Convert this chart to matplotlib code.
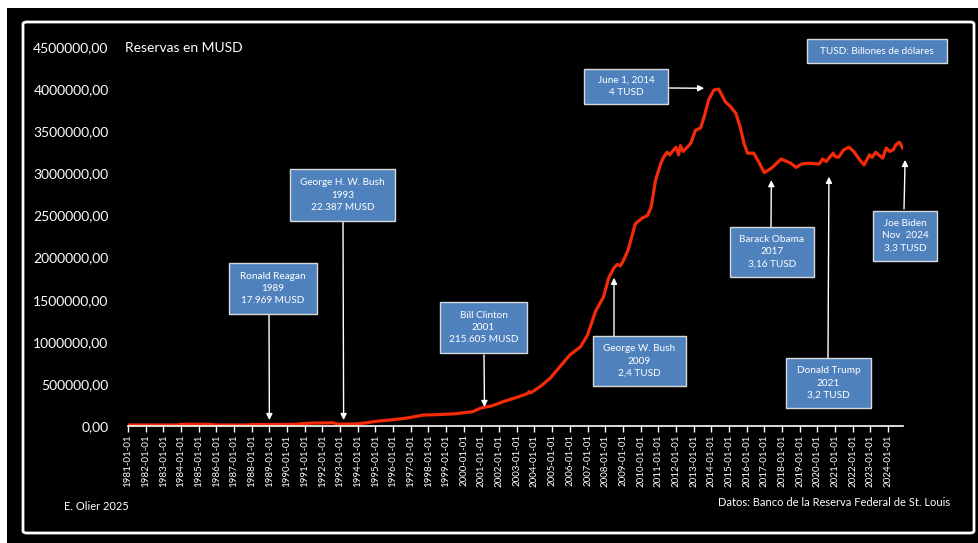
import matplotlib.pyplot as plt
from matplotlib.patches import Rectangle, FancyBboxPatch
from matplotlib.ticker import FuncFormatter

# Reservas (MUSD), serie leida por fechas en fraccion de anio
anios = [1981.0, 1983.8, 1984.0, 1985.6, 1986.0, 1987.8, 1988.0, 1989.0, 1990.5, 1991.0,
         1991.5, 1992.6, 1992.9, 1993.0, 1993.9, 1994.5, 1995.0, 1996.0, 1996.8, 1997.7,
         1998.5, 1999.5, 2000.5, 2001.0, 2001.6, 2002.25, 2003.0, 2003.6, 2003.7, 2003.8,
         2004.4, 2004.9, 2005.5, 2006.0, 2006.6, 2007.0, 2007.45, 2007.9, 2008.2, 2008.5,
         2008.7, 2008.85, 2009.0, 2009.3, 2009.7, 2010.1, 2010.4, 2010.6, 2010.85, 2011.15,
         2011.3, 2011.5, 2011.65, 2011.8, 2012.0, 2012.15, 2012.25, 2012.4, 2012.6, 2012.85,
         2013.1, 2013.4, 2013.6, 2013.85, 2014.15, 2014.42, 2014.55, 2014.8, 2015.1, 2015.4,
         2015.65, 2015.85, 2016.05, 2016.4, 2016.7, 2017.0, 2017.4, 2017.95, 2018.5, 2018.8,
         2019.1, 2019.5, 2020.1, 2020.3, 2020.5, 2020.9, 2021.0, 2021.2, 2021.5, 2021.8,
         2022.1, 2022.4, 2022.65, 2022.95, 2023.1, 2023.3, 2023.7, 2023.9, 2024.1, 2024.3,
         2024.45, 2024.65, 2024.83]
reservas = [12000, 12000, 20000, 20000, 12000, 12000, 18000, 17969, 20000, 30000,
            35000, 38000, 22000, 22387, 25000, 38000, 55000, 75000, 95000, 130000,
            135000, 145000, 170000, 215605, 240000, 290000, 340000, 385000, 410000, 395000,
            480000, 570000, 720000, 843000, 940000, 1080000, 1360000, 1530000, 1760000, 1880000,
            1920000, 1900000, 1950000, 2090000, 2400000, 2470000, 2500000, 2600000, 2920000, 3120000,
            3190000, 3250000, 3220000, 3260000, 3310000, 3220000, 3330000, 3260000, 3300000, 3360000,
            3510000, 3540000, 3670000, 3870000, 3990000, 4000000, 3950000, 3850000, 3790000, 3710000,
            3540000, 3360000, 3240000, 3240000, 3130000, 3010000, 3060000, 3170000, 3120000, 3070000,
            3110000, 3120000, 3110000, 3170000, 3140000, 3240000, 3200000, 3190000, 3280000, 3310000,
            3250000, 3160000, 3100000, 3220000, 3190000, 3250000, 3180000, 3300000, 3260000, 3280000,
            3340000, 3370000, 3300000]

anios_eje = list(range(1981, 2025))
etiquetas_eje = [f'{a}-01-01' for a in anios_eje]
valores_eje = [0, 500000, 1000000, 1500000, 2000000, 2500000, 3000000, 3500000, 4000000, 4500000]

# Notas: texto, punto al que apunta la flecha (anio, MUSD)
notas = ['Ronald Reagan\n1989\n17.969 MUSD',
         'George H. W. Bush\n1993\n22.387 MUSD',
         'Bill Clinton\n2001\n215.605 MUSD',
         'George W. Bush\n2009\n2,4 TUSD',
         'Barack Obama\n2017\n3,16 TUSD',
         'Donald Trump\n2021\n3,2 TUSD',
         'Joe Biden\nNov  2024\n3,3 TUSD',
         'June 1, 2014\n4 TUSD']
notas_x = [1989.0, 1993.2, 2001.17, 2008.5, 2017.4, 2020.66, 2024.97, 2013.6]
notas_y = [70000, 70000, 225000, 1760000, 2920000, 2960000, 3160000, 4010000]

# cajas en pixeles de la imagen (x0, y0, x1, y1) y origen de la flecha
cajas = [(229, 263, 317, 314), (290, 169, 395, 221), (440, 302, 527, 353),
         (593, 336, 686, 386), (730, 227, 814, 277), (786, 358, 871, 408),
         (873, 211, 937, 261), (584, 69, 668, 104)]
origen = [(269, 314), (343, 221), (484, 355), (614, 336), (771, 227),
          (828, 358), (904, 209), (669, 88)]

W, H = 979, 543
AZUL = '#4F81BD'
FUENTE = 'Lato'
plt.rcParams['font.family'] = [FUENTE, 'DejaVu Sans']


def fx(x):
    return x / W


def fy(y):
    return 1 - y / H


fig = plt.figure(figsize=(W / 100, H / 100), dpi=100, facecolor='white')

# fondo negro con marco blanco (por debajo de los ejes)
fig.patches.append(Rectangle((fx(7), 0), 1, fy(8), transform=fig.transFigure,
                             facecolor='black', edgecolor='none', zorder=-2))
fig.patches.append(FancyBboxPatch((fx(23), fy(533)), fx(974) - fx(23), fy(22) - fy(533),
                                  boxstyle='round,pad=0,rounding_size=0.004',
                                  transform=fig.transFigure, facecolor='black',
                                  edgecolor='white', linewidth=2, zorder=-1))

ax = fig.add_axes([fx(128), fy(426), fx(903) - fx(128), fy(47) - fy(426)])
ax.set_facecolor('none')
ax.plot(anios, reservas, color='#F42A08', linewidth=2.3, solid_joinstyle='round')

ax.set_xlim(1981, 2024.85)
ax.set_ylim(0, 4500000)
ax.set_yticks(valores_eje)
ax.yaxis.set_major_formatter(FuncFormatter(lambda v, p: f'{v:.2f}'.replace('.', ',')))
ax.set_xticks(anios_eje)
ax.set_xticklabels(etiquetas_eje, rotation=90)
ax.tick_params(axis='y', length=0, pad=14, labelsize=10, labelcolor='white')
ax.tick_params(axis='x', length=4, width=1, color='white', pad=2, labelsize=7, labelcolor='white')
for lado in ['top', 'right', 'left']:
    ax.spines[lado].set_visible(False)
ax.spines['bottom'].set_color('white')
ax.spines['bottom'].set_linewidth(1.2)

fig.text(fx(125), fy(48), 'Reservas en MUSD', color='white', fontsize=10, va='center', ha='left')
fig.text(fx(64), fy(506), 'E. Olier 2025', color='white', fontsize=8, va='center', ha='left')
fig.text(fx(950), fy(503), 'Datos: Banco de la Reserva Federal de St. Louis', color='white',
         fontsize=8, va='center', ha='right')


def caja(x0, y0, x1, y1, texto):
    fig.patches.append(Rectangle((fx(x0), fy(y1)), fx(x1) - fx(x0), fy(y0) - fy(y1),
                                 transform=fig.transFigure, facecolor=AZUL,
                                 edgecolor='#D9D9D9', linewidth=1, zorder=3))
    fig.text(fx((x0 + x1) / 2), fy((y0 + y1) / 2), texto, color='white', fontsize=7.2,
             ha='center', va='center', linespacing=1.45, zorder=4)


caja(807, 39, 947, 63, 'TUSD: Billones de dólares')

for texto, (x0, y0, x1, y1), (ox, oy), tx, ty in zip(notas, cajas, origen, notas_x, notas_y):
    caja(x0, y0, x1, y1, texto)
    ax.annotate('', xy=(tx, ty), xycoords='data', xytext=(fx(ox), fy(oy)),
                textcoords='figure fraction', annotation_clip=False,
                arrowprops=dict(arrowstyle='-|>', color='white', lw=1,
                                mutation_scale=9, shrinkA=0, shrinkB=0))

fig.savefig('out.png', dpi=100, facecolor=fig.get_facecolor())
